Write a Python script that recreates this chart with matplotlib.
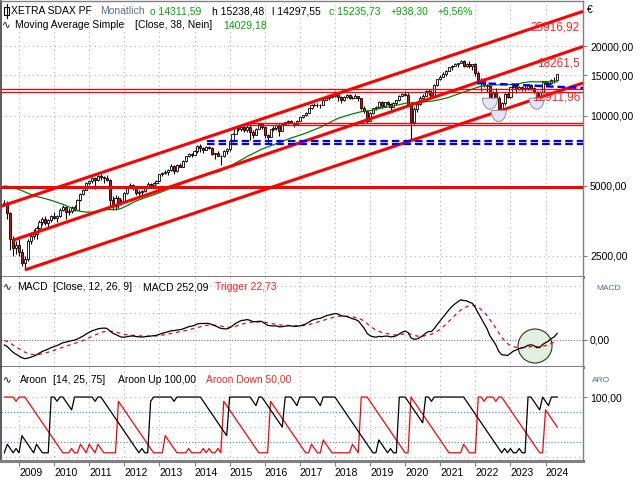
import numpy as np
import pandas as pd
import matplotlib
matplotlib.use("Agg")
import matplotlib.pyplot as plt
from matplotlib.patches import Ellipse, Polygon, Rectangle
from matplotlib.lines import Line2D

plt.rcParams['font.family'] = ['Liberation Sans', 'DejaVu Sans']
plt.rcParams['font.size'] = 7.5

W, H = 640, 480

# ---------------- data ----------------
# monthly closes Jul 2005 .. Jul 2008, only used as warm-up for MA / MACD / Aroon
warmup_close = [4200, 4150, 4300, 4200, 4400, 4550,
                4800, 4950, 5100, 5250, 4800, 4750, 4600, 4800, 4900, 5150, 5300, 5450,
                5400, 5500, 5700, 5900, 6100, 6150, 5900, 5600, 5500, 5650, 5300, 5300,
                4600, 4650, 4500, 4750, 4850, 4300, 4150]

# Aug 2008 .. May 2024 (monthly)
close = [4220, 3800, 2950, 2700, 2780,
         2600, 2330, 2420, 2900, 3050, 3100, 3300, 3500, 3600, 3450, 3550, 3700,
         3650, 3700, 3950, 4050, 3850, 3900, 4050, 3950, 4350, 4600, 4800, 5150,
         5250, 5400, 5300, 5500, 5450, 5400, 5300, 4350, 4100, 4450, 4250, 4250,
         4650, 4950, 5050, 4900, 4650, 4700, 4750, 4950, 5100, 5050, 5150, 5250,
         5600, 5700, 5750, 5850, 6100, 5800, 6150, 6050, 6400, 6700, 6850, 6800,
         7050, 7450, 7250, 7150, 7350, 7300, 6850, 6900, 6750, 6700, 7050, 7200,
         7800, 8400, 8850, 8750, 9000, 8700, 9000, 8500, 8300, 8800, 9200, 9000,
         8300, 8150, 8750, 8900, 9100, 8650, 9200, 9400, 9500, 9350, 9250, 9550,
         9850, 10050, 10350, 10800, 11200, 11100, 11150, 11200, 11750, 12000, 12050, 12150,
         12500, 12050, 11700, 12050, 12300, 12000, 12000, 12150, 11900, 10850, 10500, 9550,
         10350, 10800, 10900, 11500, 11050, 11450, 11300, 10950, 11350, 11700, 12250, 12400,
         12350, 11300, 9400, 10750, 11300, 11900, 12250, 12800, 12700, 12100, 13600, 14400,
         14700, 15200, 15700, 16200, 16500, 16700, 16950, 17300, 16500, 16800, 16400, 16700,
         15300, 14300, 14300, 13600, 13400, 11900, 12600, 12000, 10600, 11400, 12400, 12100,
         13300, 13500, 13100, 13300, 13050, 13200, 13600, 13200, 12650, 11900, 12700, 14000,
         13750, 13850, 14350, 14311.59, 15235.73]

high = [4350, 4300, 3850, 3050, 2900,
        2950, 2680, 2500, 2950, 3150, 3250, 3350, 3550, 3680, 3720, 3600, 3750,
        3850, 3750, 4000, 4150, 4100, 4000, 4100, 4150, 4380, 4650, 4850, 5180,
        5320, 5480, 5450, 5550, 5650, 5500, 5550, 5350, 4500, 4550, 4500, 4400,
        4680, 5000, 5150, 5100, 5000, 4780, 4820, 5000, 5200, 5150, 5200, 5300,
        5650, 5750, 5850, 5900, 6200, 6150, 6200, 6300, 6450, 6750, 6900, 6950,
        7150, 7500, 7550, 7350, 7400, 7450, 7350, 6950, 7050, 6800, 7100, 7300,
        7850, 8450, 8950, 9050, 9100, 9150, 9150, 9200, 8700, 8850, 9300, 9350,
        9050, 8400, 8800, 9050, 9200, 9300, 9250, 9450, 9600, 9650, 9450, 9600,
        9900, 10100, 10400, 10850, 11300, 11400, 11350, 11300, 11800, 12100, 12200, 12250,
        12750, 12550, 12150, 12150, 12450, 12450, 12250, 12400, 12200, 12000, 11000, 10600,
        10400, 10850, 11000, 11550, 11600, 11500, 11600, 11350, 11450, 11750, 12300, 12500,
        12750, 12700, 11450, 10900, 11450, 12200, 12400, 12900, 13050, 13000, 13700, 14450,
        15050, 15450, 15800, 16250, 16600, 16900, 17000, 17450, 17450, 16950, 17300, 16800,
        16900, 15650, 14600, 14600, 13800, 13650, 12800, 13200, 12200, 11500, 12600, 12700,
        13350, 13650, 13700, 13450, 13500, 13400, 13750, 13800, 13350, 12800, 12850, 14100,
        14050, 14050, 14450, 14700, 15238.48]

low = [4080, 3600, 2650, 2500, 2550,
       2500, 2250, 2180, 2380, 2820, 2950, 2950, 3250, 3400, 3400, 3330, 3500,
       3600, 3480, 3680, 3900, 3600, 3750, 3800, 3880, 3920, 4300, 4550, 4780,
       5050, 5150, 4850, 5250, 5300, 5150, 5250, 4050, 3950, 3950, 4000, 4120,
       4200, 4620, 4900, 4800, 4550, 4500, 4550, 4720, 4900, 4950, 4950, 5100,
       5250, 5500, 5600, 5550, 5800, 5600, 5750, 6000, 6000, 6350, 6650, 6650,
       6780, 6950, 7000, 6950, 7100, 7200, 6800, 6550, 6700, 6150, 6650, 6850,
       7050, 7750, 8350, 8650, 8650, 8500, 8550, 7900, 8050, 8250, 8750, 8750,
       8000, 7650, 8100, 8650, 8700, 8200, 8600, 9150, 9250, 9300, 8950, 9200,
       9500, 9800, 9950, 10250, 10750, 11000, 10950, 10800, 11150, 11700, 11700, 11900,
       12100, 11550, 11400, 11600, 11950, 11800, 11800, 11950, 11650, 10600, 10300, 9350,
       9500, 10200, 10600, 10850, 10850, 10950, 11150, 10600, 10900, 11100, 11650, 12150,
       12200, 11000, 7950, 9250, 10450, 11200, 11800, 12150, 12350, 12000, 12050, 13500,
       14250, 14650, 14900, 15650, 15800, 16400, 16300, 16850, 16300, 16200, 16050, 15800,
       14900, 13800, 12800, 13300, 12700, 11700, 11500, 11850, 10350, 10300, 11200, 11900,
       12000, 13150, 12500, 12950, 12750, 12850, 13000, 13000, 12500, 11700, 11800, 12650,
       13400, 13450, 13750, 13900, 14297.55]

first_open = 4150
years = list(range(2009, 2025))

# trend lines: (month index, value) pairs, index 0 = Aug 2008
trend_lines = [[(-1.15, 4080), (197.8, 28240)],
               [(3, 2915), (197.8, 19920)],
               [(7, 2170), (197.8, 13870)]]
red_levels_full = [13050, 12650]
red_level_main = 4950
red_levels_2015 = [9360, 9150]
blue_levels_2014 = [7820, 7560]
blue_slope = [(161.6, 13870), (197.8, 13200)]
line_labels = [("25916,92", 28), ("18261,5", 63), ("12911,96", 98)]
bowl_months = [166, 169, 182]

# ---------------- indicators ----------------
n_w = len(warmup_close)
full_close = pd.Series(warmup_close + close, dtype=float)
full_high = np.array(warmup_close + high, dtype=float)
full_low = np.array(warmup_close + low, dtype=float)

ma = full_close.rolling(38).mean().values[n_w:]
ema12 = full_close.ewm(span=12, adjust=False).mean()
ema26 = full_close.ewm(span=26, adjust=False).mean()
macd_full = ema12 - ema26
trig_full = macd_full.ewm(span=9, adjust=False).mean()
macd = macd_full.values[n_w:]
trig = trig_full.values[n_w:]

aroon_up, aroon_dn = [], []
for t in range(n_w, len(full_close)):
    wh = full_high[t - 13:t + 1][::-1]
    wl = full_low[t - 13:t + 1][::-1]
    aroon_up.append(100 * (14 - np.argmax(wh)) / 14)
    aroon_dn.append(100 * (14 - np.argmin(wl)) / 14)

n = len(close)
x = np.arange(n)
opens = np.array([first_open] + close[:-1], dtype=float)
close_a = np.array(close, dtype=float)
year_idx = [5 + 12 * (y - 2009) for y in years]

# ---------------- figure ----------------
fig = plt.figure(figsize=(6.4, 4.8), dpi=100)
fig.patch.set_facecolor('white')


def px_axes(x0, y0, x1, y1):
    return fig.add_axes([x0 / W, 1 - y1 / H, (x1 - x0) / W, (y1 - y0) / H])


ax1 = px_axes(1, 1, 583, 277)
ax2 = px_axes(1, 277, 583, 367)
ax3 = px_axes(1, 367, 583, 461)
XL = (-1.15, 197.8)

grid_kw = dict(color='#b4b4b4', lw=0.8, ls=(0, (1, 3)), zorder=0)
for ax in (ax1, ax2, ax3):
    ax.set_xlim(*XL)
    for xi in year_idx:
        ax.axvline(xi, **grid_kw)
    for s in ax.spines.values():
        s.set_color('#808080')
    ax.spines['left'].set_color('#404040')
    ax.spines['left'].set_linewidth(1.2)
    ax.spines['right'].set_linewidth(1.0)
    ax.spines['bottom'].set_linewidth(2.2)
    ax.spines['top'].set_linewidth(2.2)
    ax.yaxis.tick_right()
    ax.tick_params(axis='y', length=3, color='#808080', pad=2, labelsize=7.5)
ax1.spines['top'].set_linewidth(1.0)
ax2.spines['top'].set_visible(False)
ax3.spines['top'].set_visible(False)

# ---- price panel ----
ax1.set_yscale('log')
ax1.set_ylim(2023, 31300)
pticks = [2500, 5000, 10000, 15000, 20000]
for v in pticks:
    ax1.axhline(v, **grid_kw)
ax1.set_yticks(pticks)
ax1.set_yticklabels([f"{v},00" for v in pticks])
ax1.minorticks_off()
ax1.set_xticks([])

up = close_a >= opens
ax1.vlines(x, low, high, color='black', lw=0.8, zorder=3)
ax1.bar(x, np.abs(close_a - opens), bottom=np.minimum(opens, close_a), width=0.72,
        color=np.where(up, 'white', '#ff0000'), edgecolor='black', linewidth=0.6, zorder=3)
ax1.plot(x, ma, color='#008000', lw=0.9, zorder=4)

for (a, b) in trend_lines:
    ax1.plot([a[0], b[0]], [a[1], b[1]], color='#ff0000', lw=2.2, zorder=5,
             solid_capstyle='butt')
ax1.axhline(red_level_main, color='#ff0000', lw=2.2, zorder=5)
for v in red_levels_full:
    ax1.axhline(v, color='#ff0000', lw=0.9, zorder=5)
for v in red_levels_2015:
    ax1.plot([82.6, XL[1]], [v, v], color='#ff0000', lw=0.9, zorder=5)
for v in blue_levels_2014:
    ax1.plot([69.3, XL[1]], [v, v], color='#0000ff', lw=1.6, ls=(0, (3.4, 1.8)), zorder=5)
ax1.plot([p[0] for p in blue_slope], [p[1] for p in blue_slope], color='#0000ff',
         lw=1.8, ls=(0, (3.0, 1.6)), zorder=5)

# bowls under lows
ly0, ly1 = np.log10(ax1.get_ylim())
for m in bowl_months:
    fx = (m - XL[0]) / (XL[1] - XL[0])
    fy = (np.log10(low[m]) - ly0) / (ly1 - ly0)
    t = np.linspace(0, np.pi, 30)
    rx, ry = 7.5 / 582, 11 / 276
    pts = np.column_stack([fx + rx * np.cos(t), fy + 2 / 276 - ry * np.sin(t)])
    ax1.add_patch(Polygon(pts, closed=True, transform=ax1.transAxes, fc='#e4e4f4',
                          ec='#9090a0', lw=0.7, zorder=6))

for s, yy in line_labels:
    fig.text(580 / W, 1 - yy / H, s, color='#ff2020', fontsize=8.5, ha='right', va='center')

# ---- MACD panel ----
ax2.set_ylim(-1000, 2333)
for v in (1000, 2000):
    ax2.axhline(v, **grid_kw)
ax2.axhline(0, color='#707070', lw=0.8, ls=(0, (1, 1.5)), zorder=1)
ax2.set_yticks([0])
ax2.set_yticklabels(['0,00'])
ax2.set_xticks([])
ax2.add_patch(Ellipse(((181.4 - XL[0]) / (XL[1] - XL[0]), (-222 + 1000) / 3333),
                      34 / 582, 34 / 90, transform=ax2.transAxes, fc='#e2eede',
                      ec='#303030', lw=0.8, zorder=2))
ax2.plot(x, macd, color='black', lw=0.9, zorder=4)
ax2.plot(x, trig, color='#ff0000', lw=0.9, ls=(0, (3, 3)), zorder=3)

# ---- Aroon panel ----
ax3.set_ylim(-6.5, 150)
for v in (100, 50, 0):
    ax3.axhline(v, **grid_kw)
for v in (75, 25):
    ax3.axhline(v, color='#3399ff', lw=0.9, ls=(0, (1, 1.5)), zorder=1)
ax3.plot(x, aroon_up, color='black', lw=0.9, zorder=4)
ax3.plot(x, aroon_dn, color='#ff0000', lw=0.9, zorder=3)
ax3.set_yticks([100])
ax3.set_yticklabels(['100,00'])
ax3.set_xticks(year_idx)
ax3.set_xticklabels([str(y) for y in years])
ax3.tick_params(axis='x', length=3.6, color='#808080', pad=1.2, labelsize=7.5)
for lab in ax3.get_xticklabels():
    lab.set_ha('left')

# ---- header texts ----
def ftxt(px, py, s, color='black', size=7.5, **kw):
    fig.text(px / W, 1 - py / H, s, color=color, fontsize=size, ha='left', va='center', **kw)


green = '#00a800'
red = '#ff2020'
fig.add_artist(Line2D([6.5 / W, 6.5 / W], [1 - 4 / H, 1 - 18 / H], color='black', lw=0.8))
fig.add_artist(Rectangle((4 / W, 1 - 15 / H), 5 / W, 8 / H, fc='white', ec='black', lw=0.8))
for px_, s, c in [(11, "XETRA SDAX PF", 'black'), (100, "Monatlich", '#60708e'),
                  (150, "o 14311,59", green), (212, "h 15238,48", 'black'),
                  (272, "l 14297,55", 'black'), (329, "c 15235,73", green),
                  (391, "+938,30", green), (438, "+6,56%", green)]:
    ftxt(px_, 11, s, c)
for px_, s, c in [(2, "\u223f", 'black'), (15, "Moving Average Simple", 'black'),
                  (135, "[Close, 38, Nein]", 'black'), (223, "14029,18", green)]:
    ftxt(px_, 25, s, c)
for px_, s, c in [(3, "\u223f", 'black'), (17, "MACD", 'black'),
                  (53, "[Close, 12, 26, 9]", 'black'), (143, "MACD 252,09", 'black'),
                  (215, "Trigger 22,73", red)]:
    ftxt(px_, 287, s, c)
for px_, s, c in [(3, "\u223f", 'black'), (20, "Aroon", 'black'),
                  (53, "[14, 25, 75]", 'black'), (118, "Aroon Up 100,00", 'black'),
                  (206, "Aroon Down 50,00", red)]:
    ftxt(px_, 380, s, c)
ftxt(587, 10, "\u20ac", 'black')
ftxt(596, 288, "MACD", '#4a6a9a', size=6)
ftxt(592, 380, "ARO", '#4a6a9a', size=6)

fig.savefig('out.png', dpi=100)
